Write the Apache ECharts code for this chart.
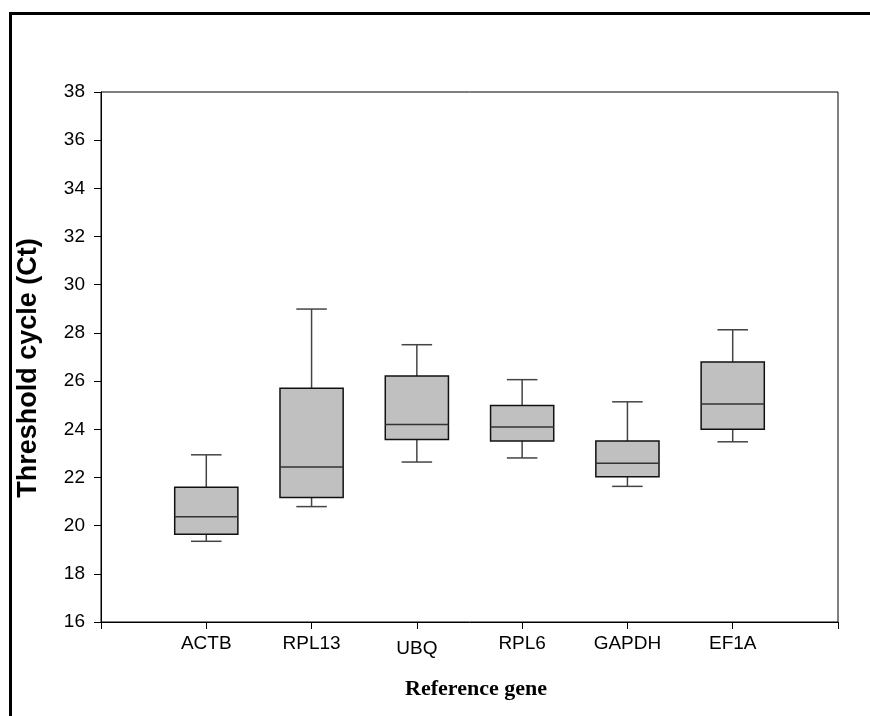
<!DOCTYPE html>
<html>
<head>
<meta charset="utf-8">
<style>html,body{margin:0;padding:0;background:#fff;}#chart{width:870px;height:716px;}</style>
<script src="https://cdn.jsdelivr.net/npm/echarts@6/dist/echarts.min.js"></script>
</head>
<body>
<div id="chart"></div>
<script>
const categories = ['', 'ACTB', 'RPL13', 'UBQ', 'RPL6', 'GAPDH', 'EF1A', ''];
const genes = ['ACTB', 'RPL13', 'UBQ', 'RPL6', 'GAPDH', 'EF1A'];
const whiskerLow = [19.35, 20.79, 22.64, 22.81, 21.63, 23.48];
const q1 = [19.64, 21.17, 23.58, 23.51, 22.03, 24.00];
const medians = [20.37, 22.43, 24.20, 24.09, 22.59, 25.05];
const q3 = [21.59, 25.70, 26.21, 24.99, 23.51, 26.79];
const whiskerHigh = [22.94, 28.99, 27.51, 26.06, 25.14, 28.13];
const yTicks = {min: 16, max: 38, interval: 2};
const xTitle = 'Reference gene';
const yTitle = 'Threshold cycle (Ct)';

const data = genes.map((g, i) => [i + 1, whiskerLow[i], q1[i], medians[i], q3[i], whiskerHigh[i]]);

const chart = echarts.init(document.getElementById('chart'), null, {renderer: 'canvas'});

function renderItem(params, api) {
  const x = api.value(0);
  const lo = api.coord([x, api.value(1)]);
  const b1 = api.coord([x, api.value(2)]);
  const md = api.coord([x, api.value(3)]);
  const b3 = api.coord([x, api.value(4)]);
  const hi = api.coord([x, api.value(5)]);
  const band = api.size([1, 0])[0];
  const bw = band * 0.6;
  const cw = band * 0.29;
  const cx = lo[0];
  const wStyle = {stroke: '#444', lineWidth: 1.5};
  return {
    type: 'group',
    children: [
      {type: 'line', shape: {x1: cx, y1: b3[1], x2: cx, y2: hi[1]}, style: wStyle},
      {type: 'line', shape: {x1: cx, y1: b1[1], x2: cx, y2: lo[1]}, style: wStyle},
      {type: 'line', shape: {x1: cx - cw / 2, y1: hi[1], x2: cx + cw / 2, y2: hi[1]}, style: wStyle},
      {type: 'line', shape: {x1: cx - cw / 2, y1: lo[1], x2: cx + cw / 2, y2: lo[1]}, style: wStyle},
      {type: 'rect', shape: {x: cx - bw / 2, y: b3[1], width: bw, height: b1[1] - b3[1]},
        style: {fill: '#c0c0c0', stroke: '#111', lineWidth: 1.5}},
      {type: 'line', shape: {x1: cx - bw / 2, y1: md[1], x2: cx + bw / 2, y2: md[1]}, style: {stroke: '#333', lineWidth: 1.5}}
    ]
  };
}

chart.setOption({
  animation: false,
  backgroundColor: '#fff',
  graphic: [
    {type: 'rect', z: 100, silent: true, shape: {x: 10.5, y: 13.5, width: 900, height: 800},
      style: {fill: 'none', stroke: '#000', lineWidth: 3}},
    {type: 'text', silent: true, x: 29, y: 368, rotation: Math.PI / 2,
      style: {text: yTitle, fontFamily: 'Liberation Sans', fontWeight: 'bold', fontSize: 27,
        fill: '#000', align: 'center', verticalAlign: 'middle'}},
    {type: 'text', silent: true, x: 476, y: 689,
      style: {text: xTitle, fontFamily: 'Liberation Serif', fontWeight: 'bold', fontSize: 22,
        fill: '#000', align: 'center', verticalAlign: 'middle'}}
  ],
  grid: {left: 101, top: 92, width: 737, height: 530, show: true, borderColor: '#000', borderWidth: 1, backgroundColor: 'transparent'},
  xAxis: {
    type: 'category',
    data: categories,
    boundaryGap: false,
    axisLine: {lineStyle: {color: '#000', width: 1}},
    axisTick: {show: true, length: 7, lineStyle: {color: '#000'}, interval: 0},
    axisLabel: {
      interval: 0, margin: 12, color: '#000', fontFamily: 'Liberation Sans', fontSize: 19,
      formatter: v => v === 'UBQ' ? '{q|UBQ}' : v,
      rich: {q: {fontFamily: 'Liberation Sans', fontSize: 19, color: '#000', padding: [5, 0, 0, 0]}}
    },
    splitLine: {show: false}
  },
  yAxis: {
    type: 'value',
    min: yTicks.min, max: yTicks.max, interval: yTicks.interval,
    axisLine: {show: true, lineStyle: {color: '#000', width: 1}},
    axisTick: {show: true, length: 7, lineStyle: {color: '#000'}},
    axisLabel: {margin: 16, color: '#000', fontFamily: 'Liberation Sans', fontSize: 19},
    splitLine: {show: false}
  },
  series: [{
    type: 'custom',
    renderItem: renderItem,
    data: data,
    encode: {x: 0, y: [1, 2, 3, 4, 5]},
    clip: false
  }]
});
</script>
</body>
</html>
